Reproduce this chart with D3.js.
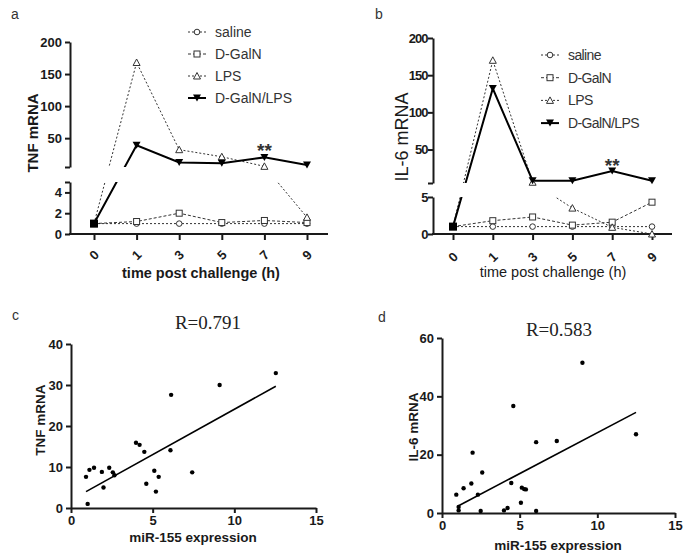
<!DOCTYPE html>
<html><head><meta charset="utf-8">
<script src="https://cdn.jsdelivr.net/npm/d3@7"></script>
<style>body{margin:0;background:#fff}</style>
</head><body><svg id="chart" width="687" height="556"></svg>
<script>
// ---------- data ----------
const times = ["0","1","3","5","7","9"];
const seriesNames = ["saline","D-GalN","LPS","D-GalN/LPS"];
const tnfSaline   = [1,1,1,1,1,1];
const tnfDGalN    = [1,1.2,2.0,1.1,1.3,1.1];
const tnfLPS      = [1,168,32,21,6,1.6];
const tnfDGalNLPS = [1,39,12,11,20,8];
const il6Saline   = [1,1,1,1,1,1];
const il6DGalN    = [1,1.8,2.3,1.2,1.6,4.3];
const il6LPS      = [1,170,6,3.5,0.9,0];
const il6DGalNLPS = [1,132,8,8,21,8];
const tnfLowTicks = [0,2,4,5], tnfUpTicks = [5,50,100,150,200];
const il6LowTicks = [0,5],     il6UpTicks = [5,50,100,150,200];

const mirC = [0.92,1.02,1.13,1.41,1.89,1.99,2.34,2.56,2.66,3.98,4.2,4.49,4.61,5.1,5.2,5.37,6.13,6.09,7.42,9.1,12.54];
const tnfC = [7.6,1.0,9.3,9.8,8.8,5.0,9.8,8.7,8.0,15.9,15.4,13.7,5.9,9.1,4.0,7.6,27.6,14.1,8.7,30.0,32.9];
const fitCx = [0.92,12.54], fitCy = [4.0,29.7];
const mirD = [0.92,1.07,1.07,1.39,1.89,1.97,2.31,2.49,2.59,3.99,4.22,4.46,4.59,5.08,5.14,5.29,5.4,6.06,6.06,7.39,9.04,12.49];
const il6D = [6.3,2.1,0.9,8.5,10.1,20.7,6.3,0.7,13.9,0.9,1.7,10.3,36.7,3.5,8.7,8.2,8.1,0.7,24.3,24.7,51.5,27.0];
const fitDx = [1.07,12.49], fitDy = [2.5,34.5];
const scatterXTicks = [0,5,10,15];
const tnfCTicks = [0,10,20,30,40];
const il6DTicks = [0,20,40,60];

// ---------- drawing ----------
const svg = d3.select("#chart");
const FONT = "'Liberation Sans', Arial, sans-serif";
const INK = "#1a1a1a";
const styles = [
  {dash:"2,2", w:1, col:"#333", marker:"circle"},
  {dash:"3,2", w:1, col:"#333", marker:"square"},
  {dash:"2,2", w:1, col:"#333", marker:"triangle"},
  {dash:null,  w:2, col:"#000", marker:"down"}
];

function drawMarker(g, type, cx, cy) {
  if (type === "circle") {
    g.append("circle").attr("cx",cx).attr("cy",cy).attr("r",2.8)
      .attr("fill","#fff").attr("stroke","#333").attr("stroke-width",1);
  } else if (type === "square") {
    g.append("rect").attr("x",cx-3).attr("y",cy-3).attr("width",6).attr("height",6)
      .attr("fill","#fff").attr("stroke","#333").attr("stroke-width",1);
  } else if (type === "triangle") {
    g.append("path").attr("d",`M${cx},${cy-3.5}L${cx+3.5},${cy+3}L${cx-3.5},${cy+3}Z`)
      .attr("fill","#fff").attr("stroke","#333").attr("stroke-width",1);
  } else if (type === "down") {
    g.append("path").attr("d",`M${cx-4},${cy-3.5}L${cx+4},${cy-3.5}L${cx},${cy+3.5}Z`)
      .attr("fill","#000");
  } else if (type === "fsquare") {
    g.append("rect").attr("x",cx-4).attr("y",cy-4).attr("width",8).attr("height",8).attr("fill","#000");
  }
}

function styleAxis(sel, size, weight, ls) {
  sel.attr("font-family", FONT).attr("font-size", size).attr("font-weight", weight);
  sel.select(".domain").attr("stroke", INK).attr("stroke-width", 2);
  sel.selectAll(".tick line").attr("stroke", INK).attr("stroke-width", 2);
  sel.selectAll(".tick text").attr("fill", INK).attr("letter-spacing", ls || 0);
}

function brokenPanel(o) {
  const g = svg.append("g");
  const x = d3.scalePoint().domain(times).range(o.xr);
  const yl = d3.scaleLinear().domain([0,5]).range(o.ylr);
  const yu = d3.scaleLinear().domain([5,200]).range(o.yur);
  const y = v => v > 5 ? yu(v) : yl(v);

  // y axes (two segments)
  const la = d3.axisLeft(yl).tickValues(o.lowTicks).tickSize(5).tickSizeOuter(0).tickPadding(o.tp)
    .tickFormat(d => o.lowLabels.includes(d) ? d : "");
  styleAxis(g.append("g").attr("transform",`translate(${o.ax},0)`).call(la), 13, "bold", o.ls);
  const ua = d3.axisLeft(yu).tickValues(o.upTicks).tickSize(5).tickSizeOuter(0).tickPadding(o.tp)
    .tickFormat(d => d === 5 ? "" : d);
  styleAxis(g.append("g").attr("transform",`translate(${o.ax},0)`).call(ua), 13, "bold", o.ls);

  // x axis
  g.append("line").attr("x1",o.ax-1).attr("x2",o.xEnd).attr("y1",o.ylr[0]).attr("y2",o.ylr[0])
    .attr("stroke",INK).attr("stroke-width",2);
  const xa = d3.axisBottom(x).tickSize(6).tickSizeOuter(0).tickFormat("");
  const xg = g.append("g").attr("transform",`translate(0,${o.ylr[0]})`).call(xa);
  styleAxis(xg, 13, "bold");
  xg.select(".domain").remove();
  times.forEach(t => {
    g.append("text").attr("transform",`translate(${x(t)},${o.xLabY}) rotate(-45)`)
      .attr("text-anchor","middle").attr("dominant-baseline","central")
      .attr("font-family",FONT).attr("font-size",13).attr("font-weight","bold").attr("fill",INK).text(t);
  });

  // clip
  const cid = "clip" + o.id;
  const cp = svg.append("clipPath").attr("id", cid);
  cp.append("rect").attr("x",o.ax+1).attr("y",0).attr("width",o.xEnd-o.ax).attr("height",o.yur[0]);
  cp.append("rect").attr("x",o.ax+1).attr("y",o.ylr[1]).attr("width",o.xEnd-o.ax).attr("height",o.ylr[0]-o.ylr[1]+10);

  const line = d3.line().x((d,i) => x(times[i])).y(d => y(d));
  const lg = g.append("g").attr("clip-path",`url(#${cid})`);
  o.series.forEach((s,k) => {
    const st = styles[k];
    lg.append("path").attr("d", line(s)).attr("fill","none").attr("stroke",st.col)
      .attr("stroke-width",st.w).attr("stroke-dasharray",st.dash);
  });
  const mg = g.append("g");
  o.series.forEach((s,k) => {
    s.forEach((v,i) => {
      let m = styles[k].marker;
      if (k === 3 && i === 0) m = "fsquare";
      drawMarker(mg, m, x(times[i]), y(v));
    });
  });

  // significance
  g.append("text").attr("x", x("7")).attr("y", o.starY).attr("text-anchor","middle")
    .attr("font-family",FONT).attr("font-size",19).attr("font-weight","bold").attr("fill","#333").text("**");

  // legend
  seriesNames.forEach((n,k) => {
    const ly = o.legY + k*o.legStep;
    const st = styles[k];
    g.append("line").attr("x1",o.legX).attr("x2",o.legX+18).attr("y1",ly).attr("y2",ly)
      .attr("stroke",st.col).attr("stroke-width",st.w).attr("stroke-dasharray",st.dash);
    drawMarker(g, st.marker, o.legX+9, ly);
    g.append("text").attr("x",o.legX+27).attr("y",ly+5).attr("font-family",FONT).attr("font-size",14)
      .attr("letter-spacing",o.legLs).attr("fill","#333").text(n);
  });

  // titles
  g.append("text").attr("transform",`translate(${o.yTitleX},${o.yTitleY}) rotate(-90)`)
    .attr("text-anchor","middle").attr("font-family",FONT).attr("font-size",o.yTitleSize)
    .attr("font-weight",o.yTitleWeight).attr("fill",INK).text(o.yTitle);
  g.append("text").attr("x",o.xTitleX).attr("y",o.xTitleY).attr("text-anchor","middle")
    .attr("font-family",FONT).attr("font-size",14.5).attr("font-weight",o.xTitleWeight).attr("fill",INK)
    .text("time post challenge (h)");
  g.append("text").attr("x",o.letterX).attr("y",19).attr("font-family",FONT).attr("font-size",14)
    .attr("fill","#333").text(o.letter);
}

brokenPanel({
  id:"a", letter:"a", letterX:11,
  xr:[94,307], ax:70, xEnd:328,
  ylr:[234,182], yur:[167,42],
  lowTicks:tnfLowTicks, lowLabels:[0,2,4], upTicks:tnfUpTicks, ls:0, tp:3,
  xLabY:255,
  series:[tnfSaline,tnfDGalN,tnfLPS,tnfDGalNLPS],
  starY:157,
  legX:188, legY:32, legStep:22, legLs:0,
  yTitle:"TNF mRNA", yTitleX:38, yTitleY:133, yTitleSize:15, yTitleWeight:"bold",
  xTitleX:201, xTitleY:278, xTitleWeight:"bold"
});

brokenPanel({
  id:"b", letter:"b", letterX:375,
  xr:[453,652], ax:433, xEnd:672,
  ylr:[234,197], yur:[183,38],
  lowTicks:il6LowTicks, lowLabels:[0,5], upTicks:il6UpTicks, ls:-1, tp:0.5,
  xLabY:257,
  series:[il6Saline,il6DGalN,il6LPS,il6DGalNLPS],
  starY:172,
  legX:541, legY:55, legStep:22.7, legLs:-0.6,
  yTitle:"IL-6 mRNA", yTitleX:408, yTitleY:137, yTitleSize:18, yTitleWeight:"normal",
  xTitleX:553, xTitleY:277, xTitleWeight:"normal"
});

function scatterPanel(o) {
  const g = svg.append("g");
  const x = d3.scaleLinear().domain([0,15]).range(o.xr);
  const y = d3.scaleLinear().domain([0,o.yMax]).range(o.yr);
  const xa = d3.axisBottom(x).tickValues(scatterXTicks).tickSize(5).tickSizeOuter(0);
  styleAxis(g.append("g").attr("transform",`translate(0,${o.yr[0]})`).call(xa), 13, "bold");
  const ya = d3.axisLeft(y).tickValues(o.yTicks).tickSize(5).tickSizeOuter(0);
  styleAxis(g.append("g").attr("transform",`translate(${o.xr[0]},0)`).call(ya), 13, "bold");

  g.append("path").attr("d", d3.line().x(d=>x(d[0])).y(d=>y(d[1]))(d3.zip(o.fx,o.fy)))
    .attr("stroke","#000").attr("stroke-width",1.6).attr("fill","none");
  g.selectAll("circle.pt").data(d3.zip(o.xs,o.ys)).join("circle")
    .attr("cx",d=>x(d[0])).attr("cy",d=>y(d[1])).attr("r",2.2).attr("fill","#000");

  g.append("text").attr("x",o.rX).attr("y",o.rY).attr("text-anchor","middle")
    .attr("font-family","'Liberation Serif','Times New Roman',serif").attr("font-size",19)
    .attr("fill","#222").text(o.rText);
  g.append("text").attr("transform",`translate(${o.yTitleX},${o.yTitleY}) rotate(-90)`)
    .attr("text-anchor","middle").attr("font-family",FONT).attr("font-size",13.5)
    .attr("font-weight","bold").attr("fill",INK).text(o.yTitle);
  g.append("text").attr("x",o.xTitleX).attr("y",o.xTitleY).attr("text-anchor","middle")
    .attr("font-family",FONT).attr("font-size",13.5).attr("font-weight","bold").attr("fill",INK)
    .text("miR-155 expression");
  g.append("text").attr("x",o.letterX).attr("y",o.letterY).attr("font-family",FONT).attr("font-size",14)
    .attr("fill","#333").text(o.letter);
}

scatterPanel({
  letter:"c", letterX:12, letterY:320,
  xr:[71,316], yr:[508,344], yMax:40, yTicks:tnfCTicks,
  xs:mirC, ys:tnfC, fx:fitCx, fy:fitCy,
  rText:"R=0.791", rX:208, rY:329,
  yTitle:"TNF mRNA", yTitleX:45, yTitleY:420,
  xTitleX:193, xTitleY:542
});
scatterPanel({
  letter:"d", letterX:378, letterY:322,
  xr:[442,675], yr:[513,338], yMax:60, yTicks:il6DTicks,
  xs:mirD, ys:il6D, fx:fitDx, fy:fitDy,
  rText:"R=0.583", rX:559, rY:336,
  yTitle:"IL-6 mRNA", yTitleX:418, yTitleY:427,
  xTitleX:558, xTitleY:550
});
</script></body></html>
